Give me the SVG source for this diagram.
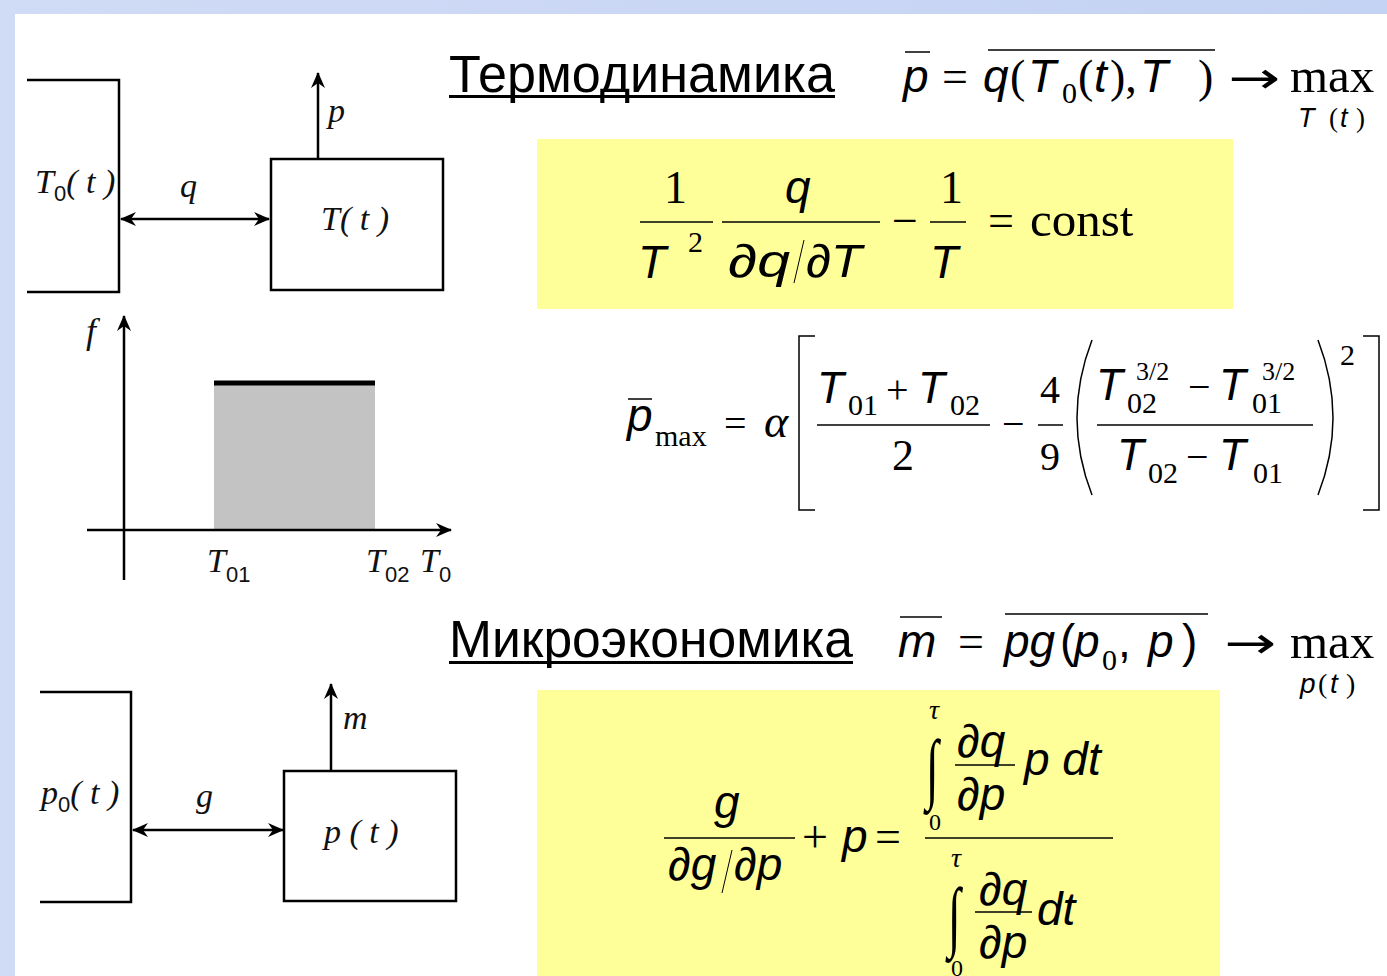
<svg xmlns="http://www.w3.org/2000/svg" width="1387" height="976" viewBox="0 0 1387 976">
<defs>
<linearGradient id="bg" x1="0" y1="0" x2="1" y2="0"><stop offset="0" stop-color="#d0dbf5"/><stop offset="1" stop-color="#c4d2f3"/></linearGradient>
<marker id="ah2" viewBox="0 0 16 14" refX="15" refY="7" markerWidth="16" markerHeight="14" orient="auto-start-reverse" markerUnits="userSpaceOnUse"><path d="M0,0 L16,7 L0,14 L5,7 Z" fill="#000"/></marker>
</defs>
<style>
.ln{stroke:#000;stroke-width:2.5;fill:none}
.thin{stroke:#000;stroke-width:1.5;fill:none}
.lab{font-family:"Liberation Serif",serif;font-style:italic;font-size:34px;fill:#111}
.sub{font-family:"Liberation Sans",sans-serif;font-style:normal;font-size:22px;fill:#111}
.head{font-family:"Liberation Sans",sans-serif;font-size:51px;fill:#000}
.v{font-family:"Liberation Sans",sans-serif;font-style:italic;font-size:46px;fill:#000}
.r{font-family:"Liberation Serif",serif;font-size:46px;fill:#000}
.rs{font-family:"Liberation Serif",serif;font-size:30px;fill:#000}
.ri{font-family:"Liberation Serif",serif;font-style:italic;font-size:46px;fill:#000}
.arr{font-family:"DejaVu Sans",sans-serif;font-size:44px;fill:#000}
</style>
<rect x="0" y="0" width="1387" height="976" fill="url(#bg)"/>
<rect x="15" y="14" width="1372" height="962" fill="#fff"/>
<rect x="537" y="139" width="696" height="170" fill="#ffff99"/>
<rect x="537" y="690" width="683" height="286" fill="#ffff99"/>

<g id="thermo-diagram">
  <g id="reservoir-T0"><path class="ln" d="M27,80 H119 V292 H27"/><text class="lab" x="35" y="193">T<tspan class="sub" dy="8">0</tspan><tspan dy="-8">( t )</tspan></text></g>
  <g id="engine-T"><rect class="ln" x="271" y="159" width="172" height="131"/><text class="lab" x="321" y="230">T( t )</text></g>
</g>
<g id="connectors">
  <line class="ln" x1="318" y1="159" x2="318" y2="73" marker-end="url(#ah2)"/>
  <line class="ln" x1="121" y1="219" x2="269" y2="219" marker-start="url(#ah2)" marker-end="url(#ah2)"/>
  <line class="ln" x1="331" y1="770" x2="331" y2="684" marker-end="url(#ah2)"/>
  <line class="ln" x1="133" y1="830" x2="283" y2="830" marker-start="url(#ah2)" marker-end="url(#ah2)"/>
</g>
<text class="lab" x="328" y="122">p</text>
<text class="lab" x="180" y="197">q</text>

<g id="graph">
  <rect x="214" y="383" width="161" height="147" fill="#c3c3c3"/>
  <line x1="214" y1="383" x2="375" y2="383" stroke="#000" stroke-width="5"/>
  <line class="ln" x1="124" y1="580" x2="124" y2="316" marker-end="url(#ah2)"/>
  <line class="ln" x1="87" y1="530" x2="451" y2="530" marker-end="url(#ah2)"/>
  <text class="lab" x="86" y="343" style="font-size:36px">f</text>
  <text class="lab" x="207" y="572">T<tspan class="sub" dy="10">01</tspan></text>
  <text class="lab" x="366" y="572">T<tspan class="sub" dy="10">02</tspan></text>
  <text class="lab" x="420" y="572">T<tspan class="sub" dy="10">0</tspan></text>
</g>

<g id="heading-thermo">
  <text class="head" x="449" y="92" textLength="386" lengthAdjust="spacingAndGlyphs">Термодинамика</text>
  <rect x="449" y="95" width="386" height="3" fill="#000"/>
</g>
<g id="formula-thermo-goal">
  <text class="v" x="903" y="92">p</text>
  <line class="thin" x1="905" y1="52" x2="930" y2="52"/>
  <text class="r" x="942" y="92">=</text>
  <text class="v" x="983" y="92">q</text>
  <text class="r" x="1010" y="92">(</text>
  <text class="v" x="1028" y="92">T</text>
  <text class="rs" x="1062" y="103">0</text>
  <text class="r" x="1078" y="92">(</text>
  <text class="v" x="1094" y="92">t</text>
  <text class="r" x="1110" y="92">),</text>
  <text class="v" x="1140" y="92">T</text>
  <text class="r" x="1198" y="92">)</text>
  <line class="thin" x1="988" y1="50" x2="1215" y2="50"/>
  <text class="arr" x="1228" y="93" textLength="52" lengthAdjust="spacingAndGlyphs">→</text>
  <text class="r" x="1290" y="92" style="font-size:49px">max</text>
  <text class="v" x="1298" y="127" style="font-size:27px">T</text>
  <text class="rs" x="1329" y="127" style="font-size:27px">(</text>
  <text class="v" x="1340" y="127" style="font-size:27px">t</text>
  <text class="rs" x="1356" y="127" style="font-size:27px">)</text>
</g>

<g id="formula-thermo-cond">
  <text class="r" x="664" y="203">1</text>
  <line class="thin" x1="640" y1="222" x2="713" y2="222"/>
  <text class="v" x="638" y="278">T</text>
  <text class="rs" x="688" y="252">2</text>
  <text class="v" x="785" y="203">q</text>
  <line class="thin" x1="722" y1="222" x2="880" y2="222"/>
  <text class="v" x="728" y="277" textLength="62" lengthAdjust="spacingAndGlyphs">∂q</text>
  <line x1="794" y1="283" x2="804" y2="240" stroke="#000" stroke-width="1"/>
  <text class="v" x="806" y="277" textLength="56" lengthAdjust="spacingAndGlyphs">∂T</text>
  <text class="r" x="892" y="236">−</text>
  <text class="r" x="940" y="203">1</text>
  <line class="thin" x1="930" y1="222" x2="966" y2="222"/>
  <text class="v" x="930" y="278">T</text>
  <text class="r" x="988" y="236">=</text>
  <text class="r" x="1030" y="236" style="font-size:49px">const</text>
</g>

<g id="formula-pmax">
  <text class="v" x="627" y="431">p</text>
  <line class="thin" x1="628" y1="399" x2="652" y2="399"/>
  <text class="rs" x="655" y="446">max</text>
  <text class="r" x="724" y="437" style="font-size:40px">=</text>
  <text class="ri" x="764" y="437">α</text>
  <path class="thin" d="M815,336 H799 V510 H815"/>
  <text class="v" x="817" y="403" style="font-size:44px">T</text>
  <text class="rs" x="848" y="415">01</text>
  <text class="r" x="886" y="403" style="font-size:40px">+</text>
  <text class="v" x="918" y="403" style="font-size:44px">T</text>
  <text class="rs" x="950" y="415">02</text>
  <line class="thin" x1="817" y1="425" x2="990" y2="425"/>
  <text class="r" x="892" y="470" style="font-size:44px">2</text>
  <text class="r" x="1002" y="437" style="font-size:40px">−</text>
  <text class="r" x="1040" y="403" style="font-size:40px">4</text>
  <line class="thin" x1="1038" y1="425" x2="1063" y2="425"/>
  <text class="r" x="1040" y="470" style="font-size:40px">9</text>
  <path d="M1092,340 Q1062,418 1092,495" stroke="#000" stroke-width="1.5" fill="none"/>
  <text class="v" x="1096" y="400" style="font-size:44px">T</text>
  <text class="rs" x="1127" y="413">02</text>
  <text class="rs" x="1136" y="380" style="font-size:26px">3/2</text>
  <text class="r" x="1188" y="400" style="font-size:40px">−</text>
  <text class="v" x="1219" y="400" style="font-size:44px">T</text>
  <text class="rs" x="1252" y="413">01</text>
  <text class="rs" x="1262" y="380" style="font-size:26px">3/2</text>
  <line class="thin" x1="1097" y1="425" x2="1313" y2="425"/>
  <text class="v" x="1117" y="470" style="font-size:44px">T</text>
  <text class="rs" x="1148" y="483">02</text>
  <text class="r" x="1186" y="470" style="font-size:40px">−</text>
  <text class="v" x="1219" y="470" style="font-size:44px">T</text>
  <text class="rs" x="1253" y="483">01</text>
  <path d="M1318,340 Q1348,418 1318,495" stroke="#000" stroke-width="1.5" fill="none"/>
  <text class="rs" x="1340" y="365">2</text>
  <path class="thin" d="M1363,336 H1379 V510 H1363"/>
</g>

<g id="heading-micro">
  <text class="head" x="449" y="657" textLength="404" lengthAdjust="spacingAndGlyphs">Микроэкономика</text>
  <rect x="449" y="661" width="404" height="3" fill="#000"/>
</g>
<g id="formula-micro-goal">
  <text class="v" x="898" y="657">m</text>
  <line class="thin" x1="900" y1="617" x2="942" y2="617"/>
  <text class="r" x="958" y="657">=</text>
  <text class="v" x="1004" y="657">pg</text>
  <text class="v" x="1060" y="657" style="font-style:normal">(</text>
  <text class="v" x="1074" y="657">p</text>
  <text class="rs" x="1102" y="670">0</text>
  <text class="v" x="1118" y="657" style="font-style:normal">,</text>
  <text class="v" x="1148" y="657">p</text>
  <text class="v" x="1182" y="657" style="font-style:normal">)</text>
  <line class="thin" x1="1005" y1="614" x2="1208" y2="614"/>
  <text class="arr" x="1224" y="658" textLength="52" lengthAdjust="spacingAndGlyphs">→</text>
  <text class="r" x="1290" y="658" style="font-size:49px">max</text>
  <text class="v" x="1300" y="693" style="font-size:28px">p</text>
  <text class="rs" x="1318" y="693" style="font-size:28px">(</text>
  <text class="v" x="1330" y="693" style="font-size:28px">t</text>
  <text class="rs" x="1346" y="693" style="font-size:28px">)</text>
</g>

<g id="micro-diagram">
  <g id="market-p0"><path class="ln" d="M40,692 H131 V902 H40"/><text class="lab" x="41" y="804">p<tspan class="sub" dy="8">0</tspan><tspan dy="-8">( t )</tspan></text></g>
  <g id="firm-p"><rect class="ln" x="284" y="771" width="172" height="130"/><text class="lab" x="324" y="843">p ( t )</text></g>
</g>
<text class="lab" x="343" y="729">m</text>
<text class="lab" x="196" y="807">g</text>

<g id="formula-micro-cond">
  <text class="v" x="714" y="818">g</text>
  <line class="thin" x1="664" y1="838" x2="795" y2="838"/>
  <text class="v" x="668" y="880">∂g</text>
  <line x1="722" y1="893" x2="732" y2="850" stroke="#000" stroke-width="1"/>
  <text class="v" x="734" y="880">∂p</text>
  <text class="r" x="802" y="852">+</text>
  <text class="v" x="842" y="852">p</text>
  <text class="r" x="875" y="852">=</text>
  <line class="thin" x1="925" y1="838" x2="1113" y2="838"/>
  <text class="ri" x="929" y="719" style="font-size:28px">τ</text>
  <text class="r" transform="translate(926,794) scale(0.6,1)" style="font-size:78px">∫</text>
  <text class="rs" x="929" y="830" style="font-size:24px">0</text>
  <text class="v" x="957" y="757">∂q</text>
  <line class="thin" x1="955" y1="765" x2="1015" y2="765"/>
  <text class="v" x="957" y="810">∂p</text>
  <text class="v" x="1024" y="775">p dt</text>
  <text class="ri" x="951" y="867" style="font-size:28px">τ</text>
  <text class="r" transform="translate(948,942) scale(0.6,1)" style="font-size:78px">∫</text>
  <text class="rs" x="951" y="976" style="font-size:24px">0</text>
  <text class="v" x="979" y="905">∂q</text>
  <line class="thin" x1="975" y1="912" x2="1032" y2="912"/>
  <text class="v" x="979" y="958">∂p</text>
  <text class="v" x="1037" y="925">dt</text>
</g>
</svg>
